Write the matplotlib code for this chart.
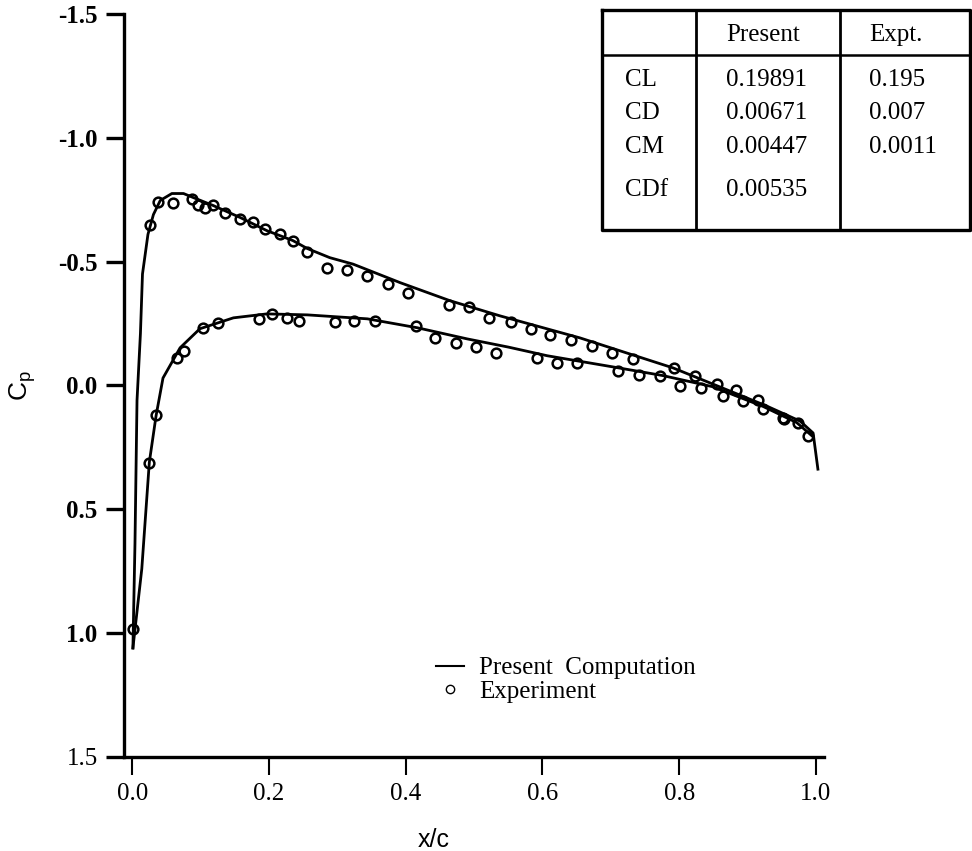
import matplotlib
matplotlib.use('Agg')
import matplotlib.pyplot as plt
from matplotlib.lines import Line2D

plt.rcParams['font.family'] = 'Liberation Serif'
plt.rcParams['axes.unicode_minus'] = False

# computed pressure distribution, upper and lower surface
x_upper_cfd = [0.001, 0.004, 0.007, 0.012, 0.015, 0.023, 0.031, 0.041, 0.058, 0.075,
               0.089, 0.118, 0.158, 0.197, 0.235, 0.256, 0.289, 0.323, 0.392, 0.465,
               0.538, 0.655, 0.728, 0.791, 0.849, 0.928, 0.977, 0.996, 1.003]
cp_upper_cfd = [1.06, 0.64, 0.06, -0.21, -0.45, -0.61, -0.69, -0.747, -0.775, -0.775,
                -0.759, -0.727, -0.678, -0.625, -0.585, -0.553, -0.516, -0.490, -0.415, -0.342,
                -0.281, -0.192, -0.127, -0.071, -0.006, 0.083, 0.144, 0.192, 0.338]

x_lower_cfd = [0.001, 0.014, 0.025, 0.035, 0.045, 0.070, 0.099, 0.148, 0.197, 0.256,
               0.344, 0.417, 0.490, 0.550, 0.607, 0.703, 0.776, 0.849, 0.923, 0.972, 0.995]
cp_lower_cfd = [1.06, 0.74, 0.31, 0.12, -0.03, -0.152, -0.229, -0.273, -0.289, -0.285,
                -0.269, -0.233, -0.188, -0.155, -0.120, -0.075, -0.040, 0.005, 0.085, 0.150, 0.205]

# experiment
x_upper_exp = [0.026, 0.037, 0.060, 0.088, 0.096, 0.107, 0.118, 0.136, 0.158, 0.177,
               0.194, 0.216, 0.235, 0.256, 0.285, 0.314, 0.344, 0.374, 0.404, 0.463,
               0.493, 0.522, 0.554, 0.583, 0.611, 0.642, 0.673, 0.702, 0.732, 0.792,
               0.823, 0.855, 0.883, 0.915, 0.952, 0.974]
cp_upper_exp = [-0.646, -0.739, -0.735, -0.751, -0.727, -0.718, -0.727, -0.698, -0.674, -0.658,
                -0.630, -0.613, -0.585, -0.540, -0.476, -0.468, -0.443, -0.411, -0.374, -0.326,
                -0.318, -0.273, -0.257, -0.229, -0.204, -0.184, -0.160, -0.132, -0.107, -0.071,
                -0.038, -0.006, 0.018, 0.059, 0.132, 0.152]

x_lower_exp = [0.001, 0.025, 0.035, 0.066, 0.076, 0.104, 0.126, 0.186, 0.205, 0.227,
               0.244, 0.297, 0.325, 0.355, 0.415, 0.443, 0.474, 0.503, 0.532, 0.592,
               0.621, 0.651, 0.711, 0.741, 0.772, 0.801, 0.832, 0.864, 0.893, 0.923,
               0.953, 0.988]
cp_lower_exp = [0.982, 0.314, 0.119, -0.111, -0.140, -0.233, -0.253, -0.269, -0.289, -0.273,
                -0.261, -0.257, -0.261, -0.261, -0.241, -0.192, -0.172, -0.156, -0.132, -0.111,
                -0.091, -0.091, -0.059, -0.043, -0.038, 0.002, 0.010, 0.043, 0.063, 0.095,
                0.136, 0.204]

xticks = [0.0, 0.2, 0.4, 0.6, 0.8, 1.0]
xtick_labels = ['0.0', '0.2', '0.4', '0.6', '0.8', '1.0']
yticks = [-1.5, -1.0, -0.5, 0.0, 0.5, 1.0, 1.5]
ytick_labels = ['-1.5', '-1.0', '-0.5', '0.0', '0.5', '1.0', '1.5']

# force coefficients table
table_header = ['', 'Present', 'Expt.']
coef_names = ['CL', 'CD', 'CM', 'CDf']
coef_present = ['0.19891', '0.00671', '0.00447', '0.00535']
coef_expt = ['0.195', '0.007', '0.0011', '']

fig = plt.figure(figsize=(9.72, 8.51), dpi=100)
ax = fig.add_axes([0.1276, 0.1105, 0.7202, 0.8731])

ax.plot(x_upper_cfd, cp_upper_cfd, color='black', lw=2.0)
ax.plot(x_lower_cfd, cp_lower_cfd, color='black', lw=2.0)
ax.plot(x_upper_exp, cp_upper_exp, 'o', mfc='none', mec='black', ms=7, mew=1.8)
ax.plot(x_lower_exp, cp_lower_exp, 'o', mfc='none', mec='black', ms=7, mew=1.8)

ax.set_xlim(-0.012, 1.012)
ax.set_ylim(1.5, -1.5)

for side in ['top', 'right']:
    ax.spines[side].set_visible(False)
for side in ['left', 'bottom']:
    ax.spines[side].set_linewidth(2.4)

ax.set_xticks(xticks)
ax.set_xticklabels(xtick_labels)
ax.set_yticks(yticks)
ax.set_yticklabels(ytick_labels)
ax.tick_params(axis='x', direction='out', length=13, width=1.5, pad=6, labelsize=18)
ax.tick_params(axis='y', direction='out', length=13, width=2.4, pad=6, labelsize=18)
for lbl in ax.get_yticklabels()[:-1]:
    lbl.set_fontweight('bold')

ax.set_xlabel('x/c', family='Liberation Sans', fontsize=18)
ax.xaxis.set_label_coords(0.443, -0.095)
ax.set_ylabel('C$_\\mathregular{p}$', family='Liberation Sans', fontsize=19)
ax.yaxis.set_label_coords(-0.123, 0.5)

handles = [Line2D([], [], color='black', lw=1.5),
           Line2D([], [], marker='o', ls='none', mfc='none', mec='black', ms=6, mew=1.0)]
ax.legend(handles, ['Present  Computation', 'Experiment'], loc='upper left',
          bbox_to_anchor=(0.449, 0.228), bbox_transform=fig.transFigure,
          frameon=False, fontsize=18, handlelength=1.1, handletextpad=0.6,
          labelspacing=0.05, borderpad=0, borderaxespad=0)

# table drawn on its own axes, coordinates in pixels from the top-left
tax = fig.add_axes([602 / 972, 1 - 230 / 851, 368 / 972, 220 / 851])
tax.set_xlim(602, 970)
tax.set_ylim(230, 10)
tax.axis('off')
tax.plot([602, 970, 970, 602, 602], [10, 10, 230, 230, 10], color='black', lw=2.4, clip_on=False)
for xv in [696, 840]:
    tax.plot([xv, xv], [10, 230], color='black', lw=2.0, clip_on=False)
tax.plot([602, 970], [55, 55], color='black', lw=1.8, clip_on=False)

col_x = [625, 726, 869]
tax.text(col_x[1], 35, table_header[1], fontsize=18, va='center')
tax.text(col_x[2], 35, table_header[2], fontsize=18, va='center')
row_y = [80, 113, 147, 190]
for name, pres, expt, yv in zip(coef_names, coef_present, coef_expt, row_y):
    tax.text(col_x[0], yv, name, fontsize=18, va='center')
    tax.text(col_x[1], yv, pres, fontsize=18, va='center')
    tax.text(col_x[2], yv, expt, fontsize=18, va='center')

fig.savefig('out.png', dpi=100)
